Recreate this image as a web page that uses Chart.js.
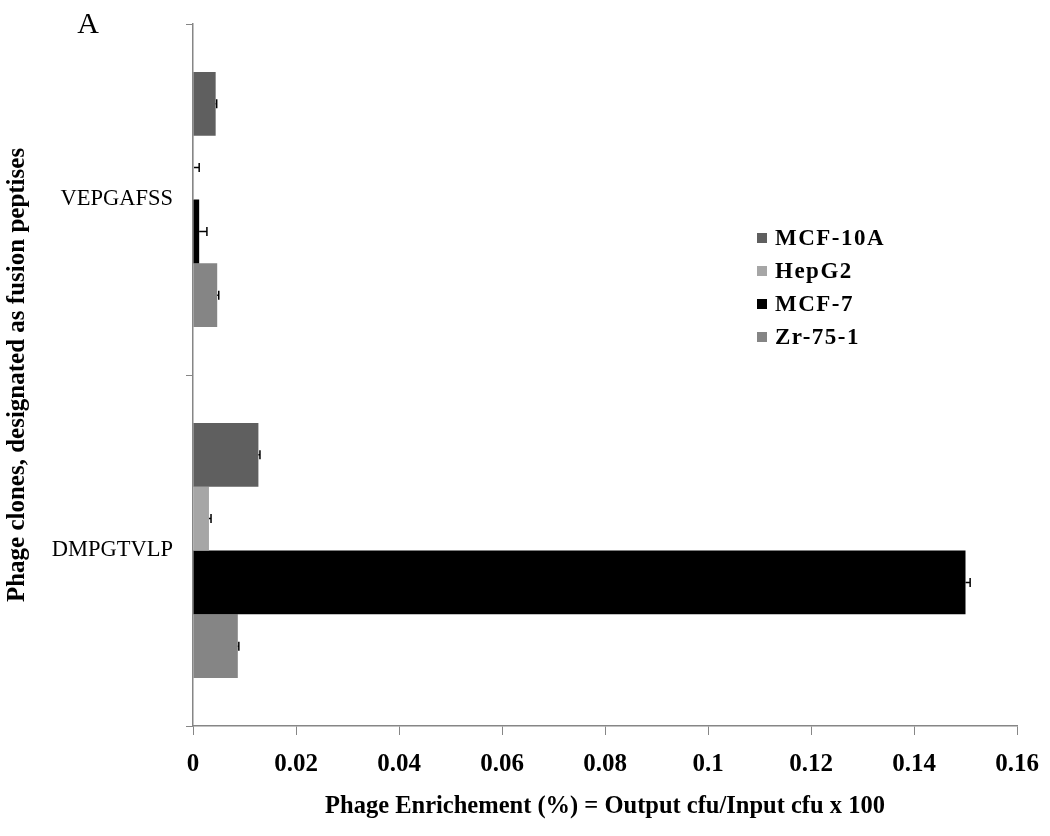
<!DOCTYPE html>
<html>
<head>
<meta charset="utf-8">
<script src="https://cdn.jsdelivr.net/npm/chart.js@4.4.1/dist/chart.umd.min.js"></script>
<style>
  html, body { margin: 0; padding: 0; background: #fff; }
  #wrap { width: 1050px; height: 836px; position: relative; }
</style>
</head>
<body>
<div id="wrap"><canvas id="c" width="1050" height="836"></canvas></div>
<script>
const categories = ['VEPGAFSS', 'DMPGTVLP'];
const seriesNames = ['MCF-10A', 'HepG2', 'MCF-7', 'Zr-75-1'];
const seriesColors = ['#5f5f5f', '#a6a6a6', '#000000', '#858585'];
const mcf10aValues = [0.0044, 0.0127];
const hepg2Values = [0.0002, 0.0031];
const mcf7Values = [0.0012, 0.1500];
const zr751Values = [0.0047, 0.0087];
const mcf10aErrors = [0.0002, 0.0003];
const hepg2Errors = [0.0010, 0.0004];
const mcf7Errors = [0.0015, 0.0009];
const zr751Errors = [0.0003, 0.0002];
const xTickLabels = ['0', '0.02', '0.04', '0.06', '0.08', '0.1', '0.12', '0.14', '0.16'];

const values = [mcf10aValues, hepg2Values, mcf7Values, zr751Values];
const errors = [mcf10aErrors, hepg2Errors, mcf7Errors, zr751Errors];

const SERIF = '"Liberation Serif", "Times New Roman", serif';
const AXIS_GRAY = '#868686';

const errorBarPlugin = {
  id: 'errorBars',
  afterDatasetsDraw(chart) {
    const ctx = chart.ctx;
    const xs = chart.scales.x;
    ctx.save();
    ctx.strokeStyle = '#000';
    ctx.lineWidth = 1.5;
    chart.data.datasets.forEach((ds, di) => {
      const meta = chart.getDatasetMeta(di);
      meta.data.forEach((bar, i) => {
        const v = ds.data[i];
        const e = ds.errors[i];
        const x0 = xs.getPixelForValue(v);
        const x1 = xs.getPixelForValue(v + e);
        const y = bar.y;
        ctx.beginPath();
        ctx.moveTo(x0, y);
        ctx.lineTo(x1, y);
        ctx.moveTo(x1, y - 4.5);
        ctx.lineTo(x1, y + 4.5);
        ctx.stroke();
      });
    });
    ctx.restore();
  }
};

const legendAndLabelPlugin = {
  id: 'customLegend',
  afterDraw(chart) {
    const ctx = chart.ctx;
    ctx.save();
    ctx.fillStyle = '#000';
    ctx.font = '30px ' + SERIF;
    ctx.textAlign = 'center';
    ctx.textBaseline = 'middle';
    ctx.fillText('A', 88, 25);
    ctx.font = 'bold 23px ' + SERIF;
    ctx.textAlign = 'left';
    try { ctx.letterSpacing = '1.5px'; } catch (e) {}
    const rowY = [238, 271, 304, 337];
    chart.data.datasets.forEach((ds, i) => {
      const y = rowY[i];
      ctx.fillStyle = ds.backgroundColor;
      ctx.fillRect(757, y - 5, 10, 10);
      ctx.fillStyle = '#000';
      ctx.fillText(ds.label, 775, y + 1);
    });
    ctx.restore();
  }
};

new Chart(document.getElementById('c'), {
  type: 'bar',
  data: {
    labels: categories,
    datasets: seriesNames.map((name, i) => ({
      label: name,
      data: values[i],
      errors: errors[i],
      backgroundColor: seriesColors[i],
      borderWidth: 0,
      barPercentage: 1.0,
      categoryPercentage: 0.727
    }))
  },
  options: {
    indexAxis: 'y',
    responsive: false,
    animation: false,
    layout: { padding: { left: 0, top: 24, right: 33, bottom: 0 } },
    plugins: { legend: { display: false }, tooltip: { enabled: false } },
    scales: {
      x: {
        min: 0,
        max: 0.16,
        ticks: {
          stepSize: 0.02,
          color: '#000',
          font: { family: SERIF, size: 25, weight: 'bold' },
          padding: 15,
          maxRotation: 0,
          callback: (val, idx) => xTickLabels[idx]
        },
        grid: { drawOnChartArea: false, drawTicks: true, tickLength: 9, color: AXIS_GRAY },
        border: { color: AXIS_GRAY, width: 1.5 },
        title: {
          display: true,
          text: 'Phage Enrichement (%) = Output cfu/Input cfu x 100',
          color: '#000',
          font: { family: SERIF, size: 24.5, weight: 'bold' },
          padding: { top: 0, bottom: 15 }
        },
        afterFit(scale) { scale.height = 110; scale.paddingLeft = 0; scale.paddingRight = 0; }
      },
      y: {
        ticks: {
          color: '#000',
          font: { family: SERIF, size: 22.5 },
          padding: 13
        },
        grid: { drawOnChartArea: false, drawTicks: true, tickLength: 7, color: AXIS_GRAY, offset: true },
        border: { color: AXIS_GRAY, width: 1.5 },
        title: {
          display: true,
          text: 'Phage clones, designated as fusion peptises',
          color: '#000',
          font: { family: SERIF, size: 25, weight: 'bold' },
          padding: { top: 3, bottom: 0 }
        },
        afterFit(scale) { scale.width = 193; scale.paddingTop = 0; scale.paddingBottom = 0; }
      }
    }
  },
  plugins: [errorBarPlugin, legendAndLabelPlugin]
});
</script>
</body>
</html>
